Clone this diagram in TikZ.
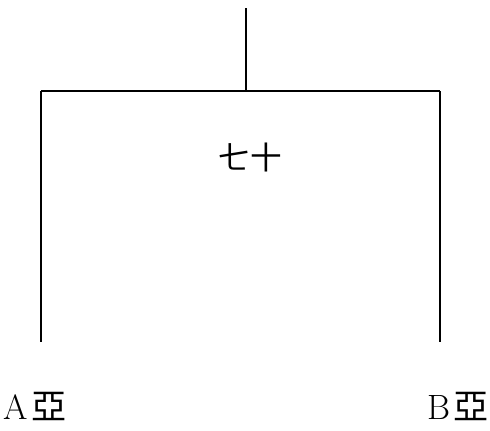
\documentclass[tikz,border=0pt]{standalone}
\usepackage{fontspec}
\newfontfamily\cjk{Noto Sans CJK TC}
\usetikzlibrary{positioning}
\begin{document}
\begin{tikzpicture}[x=0.02cm,y=-0.02cm]
            \useasboundingbox (0,0) rectangle (490,430);

            % Stem and crossbar
            \coordinate (top) at (246,8);
            \coordinate (join) at (246,91);
            \coordinate (leftend) at (41,91);
            \coordinate (rightend) at (440,91);
            \coordinate (leftfoot) at (41,342);
            \coordinate (rightfoot) at (440,342);
            \draw[line width=0.8pt] (top) -- (join);
            \draw[line width=0.8pt] (leftend) -- (rightend);

            % Legs
            \draw[line width=0.8pt] (leftend) -- (leftfoot);
            \draw[line width=0.8pt] (rightend) -- (rightfoot);

            % Labels
            \node (dist) at (250,157) {\fontsize{18}{20}\selectfont\cjk 七十};
            \node (leafa) at (35,406) {\fontsize{20}{22}\selectfont A\kern2pt{\cjk 亞}};
            \node (leafb) at (458,406) {\fontsize{20}{22}\selectfont B\kern2pt{\cjk 亞}};

        \end{tikzpicture}
\end{document}
